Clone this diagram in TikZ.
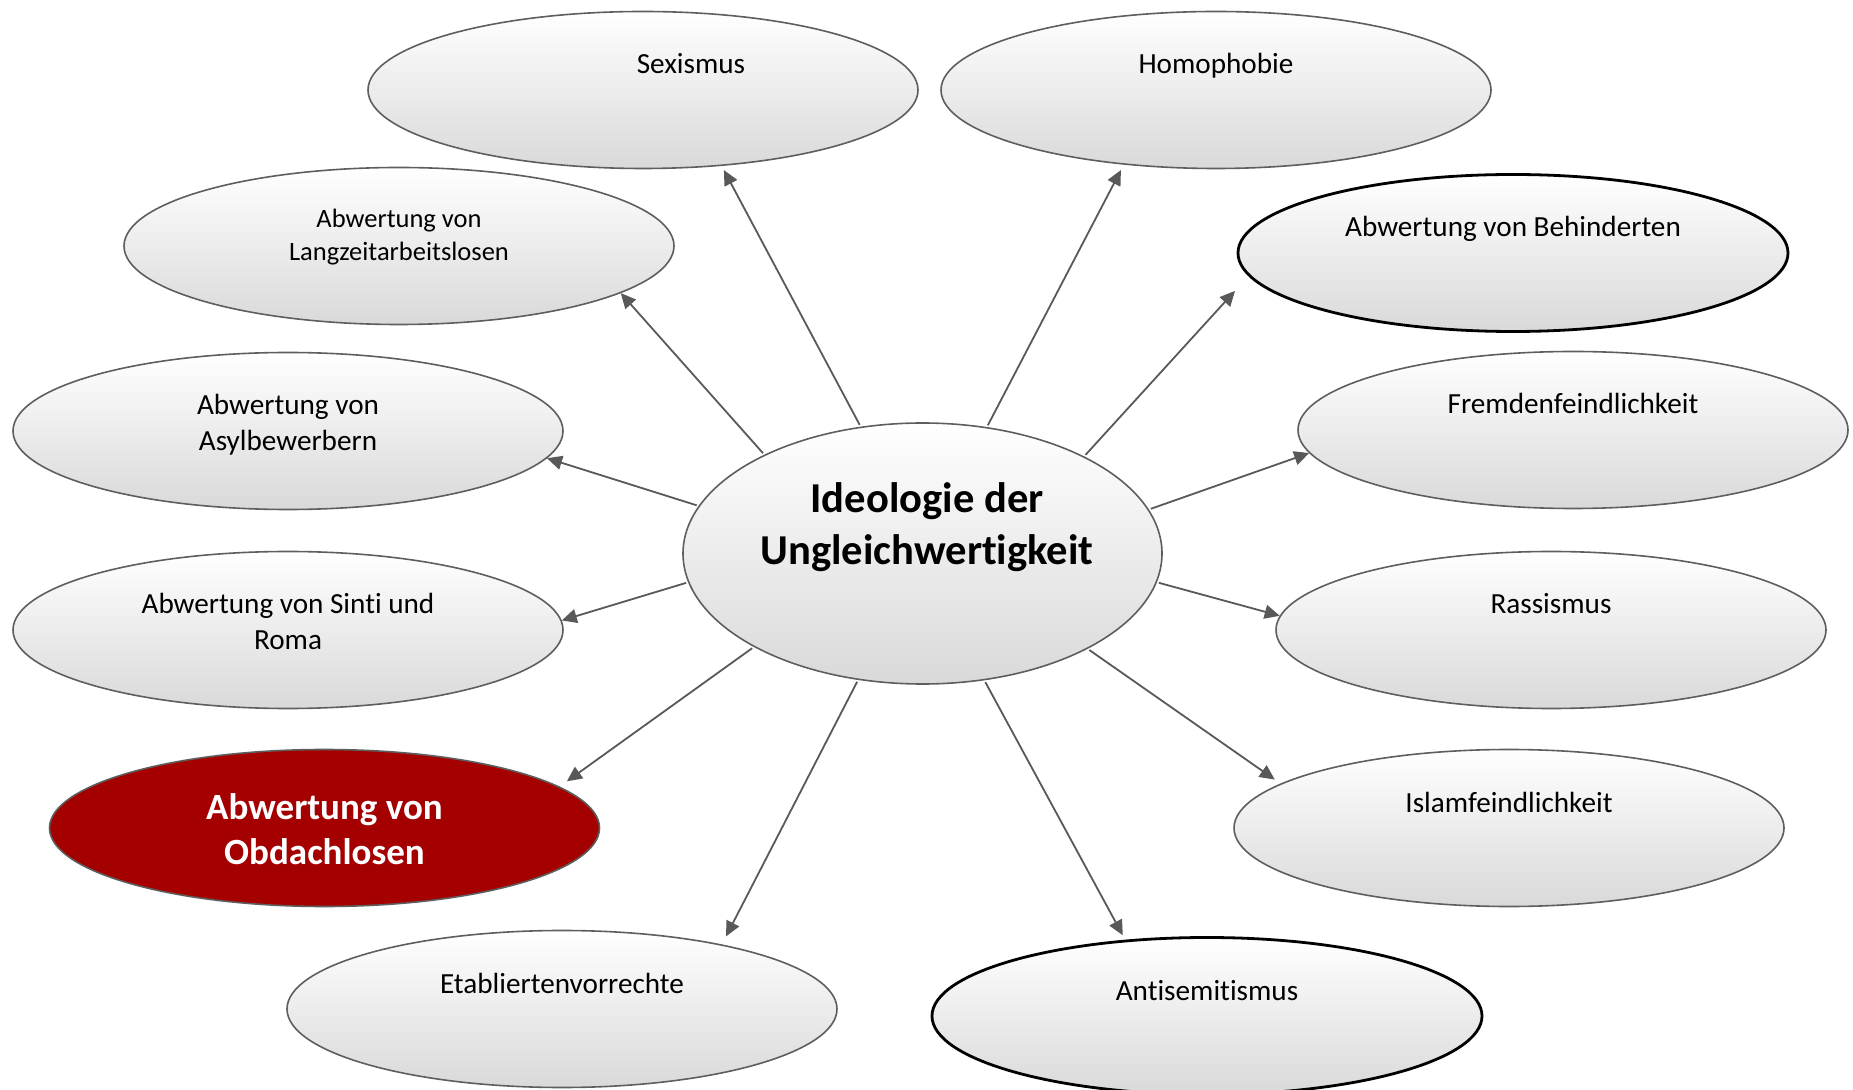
\documentclass[tikz,border=0pt]{standalone}
\usepackage{fontspec}
\setmainfont{Carlito}[Ligatures={NoCommon}]
\usetikzlibrary{shapes.geometric,arrows.meta}
\definecolor{bord}{HTML}{5E5E5E}
\definecolor{arrc}{HTML}{595959}
\definecolor{lg}{HTML}{D9D9D9}
\definecolor{obred}{HTML}{A50000}
\newcommand{\twoline}[2]{\begin{tabular}[t]{@{}c@{}}#1\\#2\end{tabular}}
\tikzset{
  bub/.style={ellipse, draw=bord, line width=0.8pt, top color=white, bottom color=lg,
    minimum width=275pt, minimum height=78.5pt, inner sep=0pt},
  bubk/.style={bub, draw=black, line width=1.4pt},
  bubred/.style={ellipse, draw=bord, line width=0.8pt, fill=obred,
    minimum width=275pt, minimum height=78.5pt, inner sep=0pt},
  lbl/.style={anchor=base, inner sep=0pt, font=\fontsize{14.6}{17.8}\selectfont},
  arr/.style={draw=arrc, line width=0.9pt, -{Triangle[length=7.5pt,width=7pt]}, shorten <=1pt},
}
\begin{document}
\begin{tikzpicture}[x=0.5pt, y=-0.5pt]
\useasboundingbox (0,0) rectangle (1853,1090);
\fill[white] (0,0) rectangle (1853,1090);
% bubbles
\node[bub]  (sex)   at (643,90) {};
\node[bub]  (hom)   at (1216,90) {};
\node[bub]  (lang)  at (399,246) {};
\node[bubk] (beh)   at (1513,253) {};
\node[bub]  (asyl)  at (288,431) {};
\node[bub]  (frem)  at (1573,430) {};
\node[bub, minimum width=239.5pt, minimum height=130.5pt] (c) at (922.5,553.5) {};
\node[bub]  (sinti) at (288,630) {};
\node[bub]  (rass)  at (1551,630) {};
\node[bubred] (obd) at (324.5,828) {};
\node[bub]  (isl)   at (1509,828) {};
\node[bub]  (etab)  at (562,1009) {};
\node[bubk] (anti)  at (1207,1016) {};
% texts
\node[lbl] (sexT)  at (691,74) {Sexismus};
\node[lbl] (homT)  at (1216,74) {Homophobie};
\node[lbl, font=\fontsize{13.25}{16.3}\selectfont] (langT) at (399,228) {\twoline{Abwertung von}{Langzeitarbeitslosen}};
\node[lbl] (behT)  at (1513,237) {Abwertung von Behinderten};
\node[lbl] (asylT) at (288,415) {\twoline{Abwertung von}{Asylbewerbern}};
\node[lbl] (fremT) at (1573,414) {Fremdenfeindlichkeit};
\node[lbl, font=\fontsize{21.3}{26}\selectfont\bfseries] (cT) at (927,513) {\twoline{Ideologie der}{Ungleichwertigkeit}};
\node[lbl] (sintiT) at (288,614) {\twoline{Abwertung von Sinti und}{Roma}};
\node[lbl] (rassT) at (1551,614) {Rassismus};
\node[lbl, text=white, font=\fontsize{18.5}{22.5}\selectfont\bfseries] (obdT) at (324.5,819) {\twoline{Abwertung von}{Obdachlosen}};
\node[lbl] (islT)  at (1509,812) {Islamfeindlichkeit};
\node[lbl] (etabT) at (562,993) {Etabliertenvorrechte};
\node[lbl] (antiT) at (1207,1000) {Antisemitismus};
% arrows
\draw[arr, shorten >=2.3pt] (c.116.3) -- (sex.-44.3);
\draw[arr, shorten >=3pt]   (c.63.7) -- (hom.219.3);
\draw[arr] (c.148.5) -- (lang.-12);
\draw[arr, shorten >=10pt] (c.31.5) -- (beh.185.5);
\draw[arr] (c.168.8) -- (asyl.-6);
\draw[arr] (c.11.4) -- (frem.185.7);
\draw[arr] (c.187.7) -- (sinti.2.7);
\draw[arr] (c.-7.6) -- (rass.177.3);
\draw[arr, shorten >=4.5pt] (c.209.1) -- (obd.10.2);
\draw[arr, shorten >=3.5pt] (c.-30.7) -- (isl.169.7);
\draw[arr, shorten >=4.5pt] (c.243.9) -- (etab.22.4);
\draw[arr, shorten >=2.5pt] (c.296.1) -- (anti.137.6);
\end{tikzpicture}
\end{document}
